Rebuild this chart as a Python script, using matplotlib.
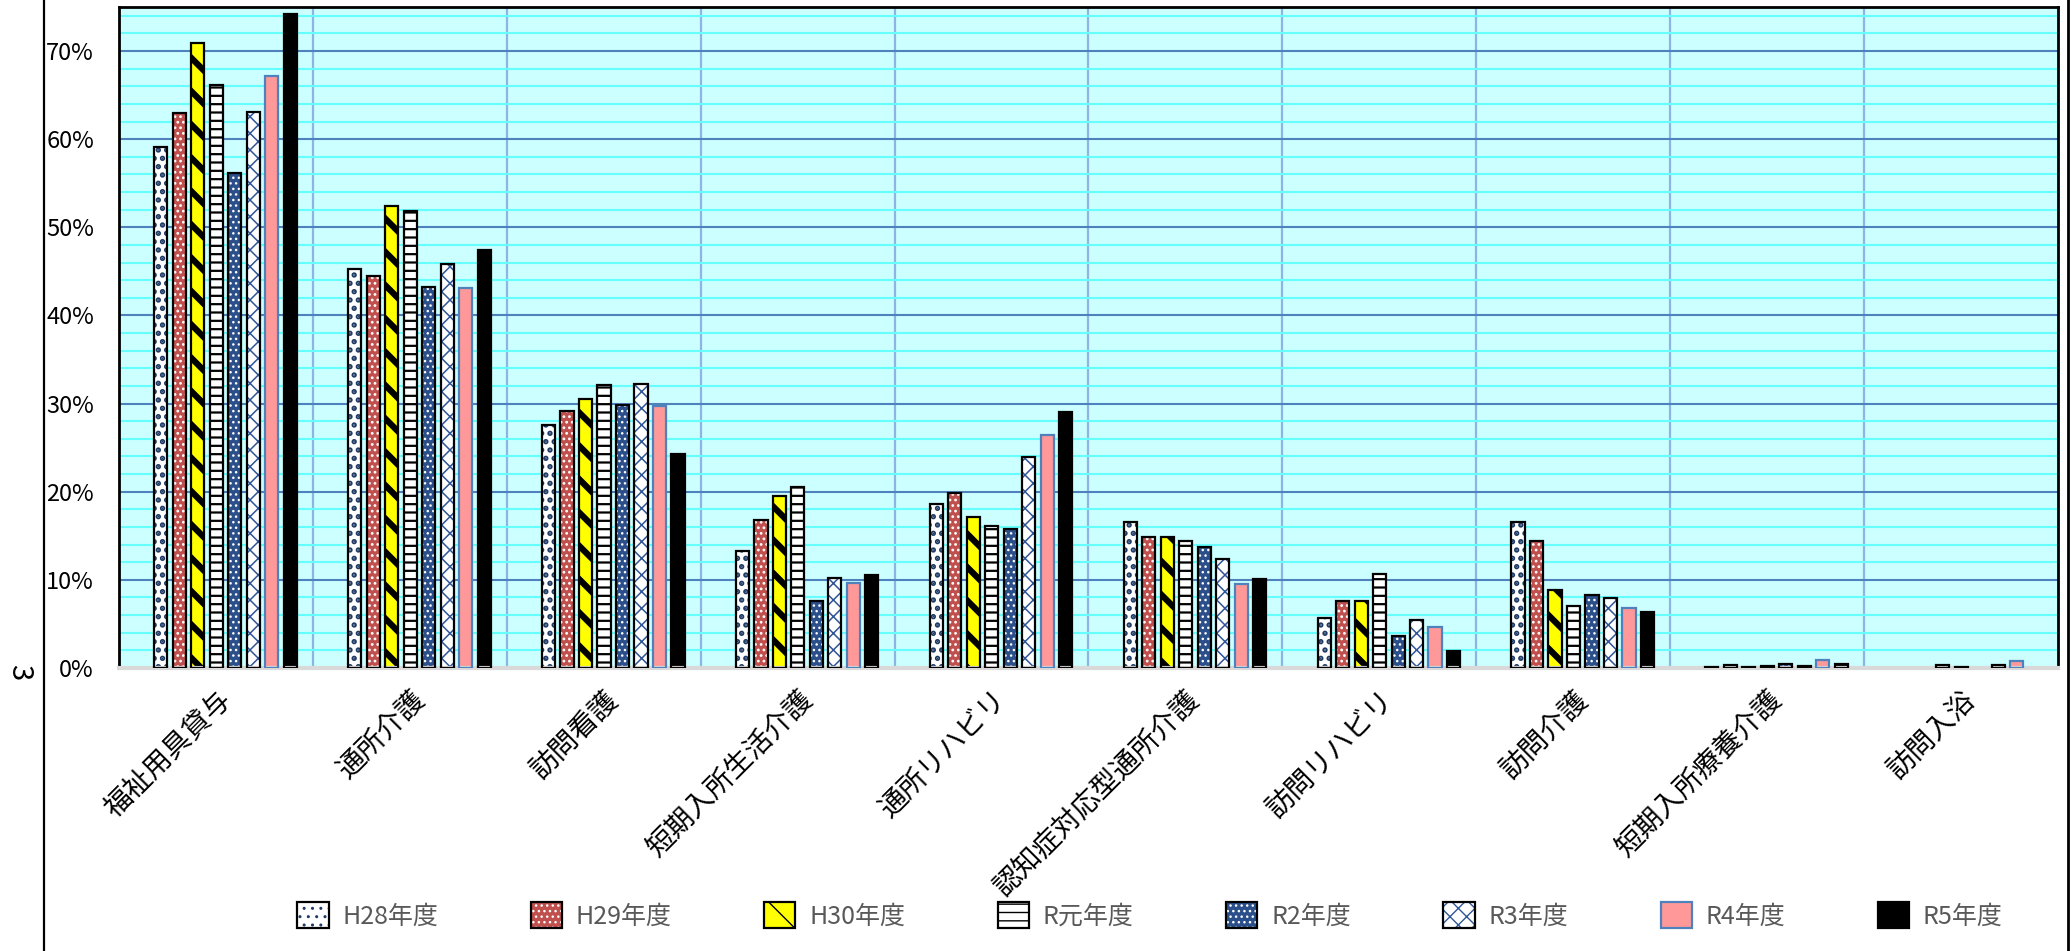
import numpy as np
import matplotlib
matplotlib.use('Agg')
import matplotlib.pyplot as plt
from matplotlib.patches import Patch
from matplotlib.lines import Line2D
from matplotlib.ticker import PercentFormatter, FixedLocator

plt.rcParams['font.family'] = ['Noto Sans CJK JP', 'DejaVu Sans']

categories = ['福祉用具貸与', '通所介護', '訪問看護', '短期入所生活介護', '通所リハビリ',
              '認知症対応型通所介護', '訪問リハビリ', '訪問介護', '短期入所療養介護', '訪問入浴']
years = ['H28年度', 'H29年度', 'H30年度', 'R元年度', 'R2年度', 'R3年度', 'R4年度', 'R5年度']

# percent of users, one list per year (same order as categories)
h28 = [59.1, 45.3, 27.6, 13.3, 18.6, 16.6, 5.7, 16.6, 0.1, 0.0]
h29 = [63.0, 44.5, 29.2, 16.8, 19.8, 14.9, 7.6, 14.4, 0.3, 0.0]
h30 = [70.9, 52.4, 30.5, 19.5, 17.1, 14.9, 7.6, 8.9, 0.1, 0.3]
r01 = [66.2, 51.9, 32.1, 20.5, 16.1, 14.4, 10.7, 7.0, 0.2, 0.1]
r02 = [56.2, 43.2, 29.8, 7.6, 15.8, 13.7, 3.6, 8.3, 0.4, 0.0]
r03 = [63.1, 45.8, 32.2, 10.2, 23.9, 12.4, 5.5, 7.9, 0.2, 0.35]
r04 = [67.2, 43.1, 29.7, 9.6, 26.4, 9.5, 4.7, 6.8, 0.9, 0.8]
r05 = [74.2, 47.4, 24.3, 10.6, 29.1, 10.1, 1.9, 6.4, 0.5, 0.0]
series = [h28, h29, h30, r01, r02, r03, r04, r05]

navy = '#1F3A64'
# face, hatch, hatch colour, edge colour, hatch linewidth
styles = [
    ('white', '..', navy, 'black', 2.6),
    ('#C0504D', '...', 'white', 'black', 1.2),
    ('#FFFF00', '\\', 'black', 'black', 4.5),
    ('white', '--', 'black', 'black', 1.6),
    ('#2A4F8A', '...', 'white', 'black', 1.0),
    ('white', 'xx', '#2F5597', 'black', 1.1),
    ('#FF9999', None, '#FF9999', '#4F81BD', 1.0),
    ('black', None, 'black', 'black', 1.0),
]

fig = plt.figure(figsize=(20.72, 9.51), dpi=100)
ax = fig.add_axes([0.0574, 0.2976, 0.9358, 0.695])
ax.set_facecolor('#CCFFFF')

x0 = np.arange(len(categories))
w = 0.068
handles = []
for j, (vals, st) in enumerate(zip(series, styles)):
    face, hatch, hcol, edge, hlw = st
    xs = x0 + 0.2155 + 0.0954 * j
    v = np.array(vals) / 100.0
    keep = v > 0
    with plt.rc_context({'hatch.linewidth': hlw}):
        bars = ax.bar(xs[keep], v[keep], width=w, color=face, hatch=hatch,
                      edgecolor=hcol, linewidth=0, zorder=2)
        for p in bars:
            if hasattr(p, 'set_hatch_linewidth'):
                p.set_hatch_linewidth(hlw)
        ax.bar(xs[keep], v[keep], width=w, fill=False, edgecolor=edge,
               linewidth=1.6, zorder=3)
        hp = Patch(facecolor=face, hatch=hatch, edgecolor=hcol, linewidth=0)
        if hasattr(hp, 'set_hatch_linewidth'):
            hp.set_hatch_linewidth(hlw)
    op = Patch(fill=False, edgecolor=edge, linewidth=1.6)
    handles.append((hp, op))

ax.set_xlim(0, len(categories))
ax.set_ylim(0, 0.75)

ax.set_yticks(np.arange(0, 0.71, 0.1))
minor_y = [k * 0.02 for k in range(1, 38) if k % 5 != 0]
ax.yaxis.set_minor_locator(FixedLocator(minor_y))
ax.yaxis.set_major_formatter(PercentFormatter(1.0, decimals=0))
ax.set_xticks(x0 + 0.5)
ax.set_xticklabels(categories, rotation=45, ha='right', va='top',
                   rotation_mode='anchor', fontsize=20)
ax.set_xticks(np.arange(1, len(categories)), minor=True)

ax.set_axisbelow(True)
ax.grid(which='minor', axis='y', color='#66FFFF', linewidth=1.5)
ax.grid(which='major', axis='y', color='#4F81BD', linewidth=1.5)
ax.grid(which='minor', axis='x', color='#8EB4E3', linewidth=1.6)

ax.tick_params(axis='y', which='both', length=0, pad=18, labelsize=17)
ax.tick_params(axis='x', which='both', length=0, pad=12)

for side in ['top', 'right', 'left']:
    ax.spines[side].set_color('black')
    ax.spines[side].set_linewidth(2)
ax.spines['bottom'].set_color('#D9D9D9')
ax.spines['bottom'].set_linewidth(3)

fig.legend(handles, years, loc='center', bbox_to_anchor=(0.555, 0.037), ncol=8,
           frameon=False, fontsize=18, handlelength=1.25, handleheight=1.2,
           handletextpad=0.55, columnspacing=3.7, labelcolor='#595959')

fig.add_artist(Line2D([0.0212, 0.0212], [0, 1], transform=fig.transFigure,
                      color='black', linewidth=1.6))
fig.add_artist(Line2D([0.998, 0.998], [0, 1], transform=fig.transFigure,
                      color='black', linewidth=2))
fig.text(19 / 2072, 1 - 672 / 951, '3', rotation=-90, ha='center', va='center',
         fontsize=21)

fig.savefig('out.png', dpi=100)
